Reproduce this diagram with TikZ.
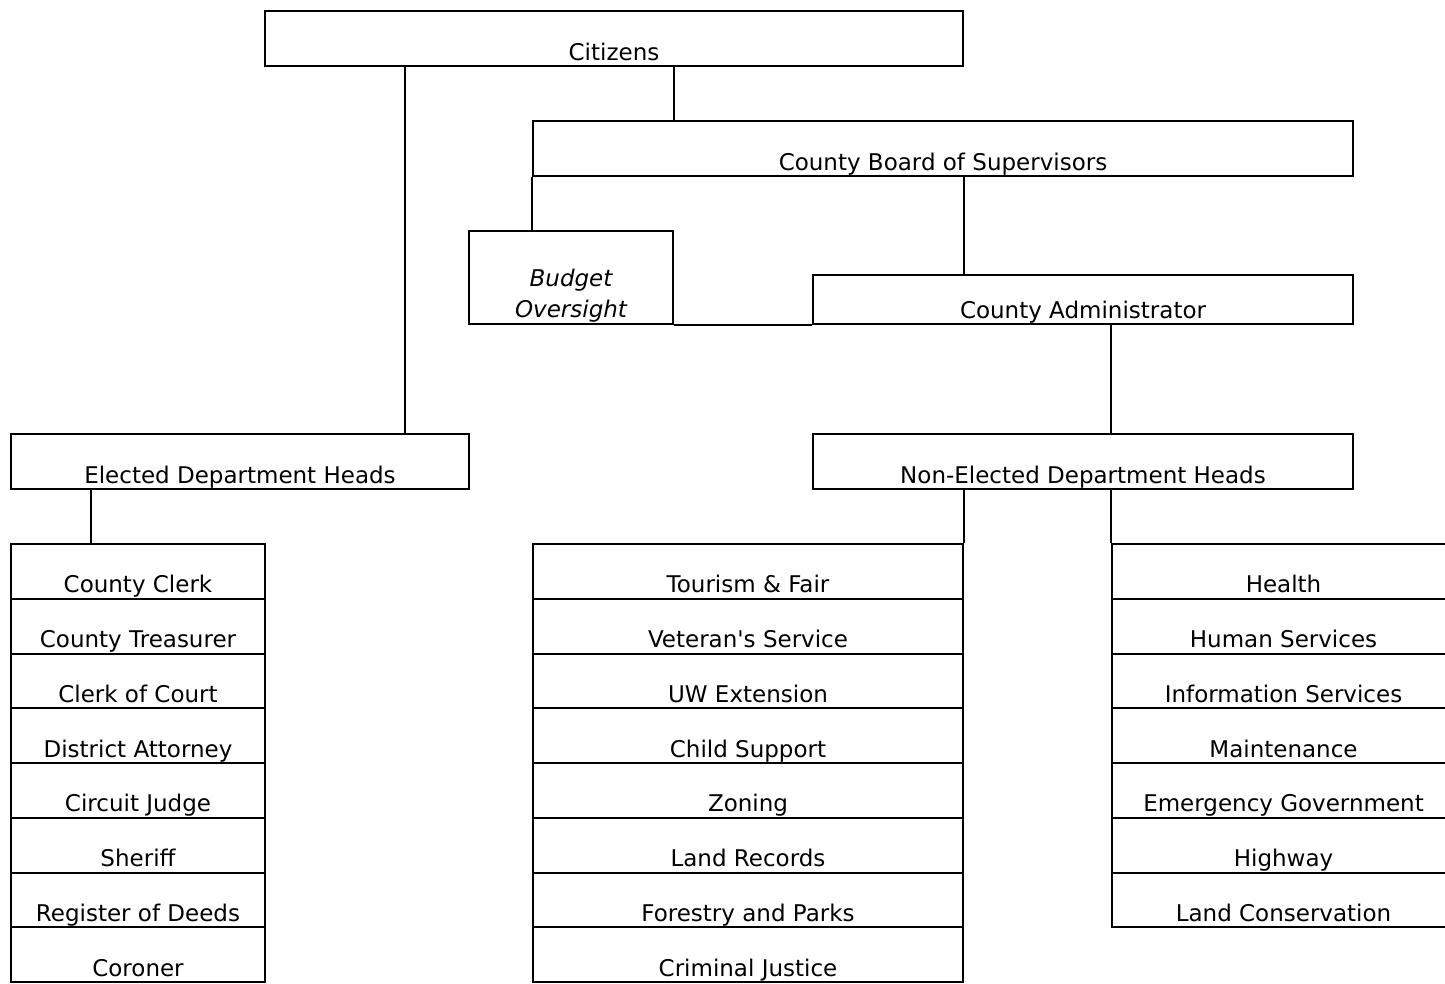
\documentclass[tikz,border=0pt]{standalone}
\usepackage{fontspec}
\setmainfont{DejaVu Sans}
\tikzset{basic/.style={draw,line width=2pt,rectangle,inner sep=0pt,
                       text depth=6pt,font=\fontsize{23}{31}\selectfont}}
\tikzset{unit/.style={basic,minimum height=55pt,text height=49pt}}
\tikzset{slim/.style={basic,minimum height=49pt,text height=43pt}}
\tikzset{row/.style={basic,minimum height=54.75pt,text height=48.75pt}}
\tikzset{link/.style={draw,line width=2pt}}
\begin{document}
\begin{tikzpicture}[x=1pt,y=-1pt]
    \useasboundingbox (0,0) rectangle (1445,983);
    \clip (0,0) rectangle (1445,983);
    % top levels
    \node[unit,minimum width=698pt] (citizens) at (614,38.5) {Citizens};
    \node[unit,minimum width=820pt] (board) at (943,148.5) {County Board of Supervisors};
    \node[basic,minimum width=204pt,minimum height=93pt,text height=86pt,text depth=7pt,
          align=center,font=\fontsize{23}{31}\selectfont\itshape] (budget) at (571,277.5) {Budget\\Oversight};
    \node[slim,minimum width=540pt] (admin) at (1083,299.5) {County Administrator};
    \node[unit,minimum width=458pt] (elected) at (240,461.5) {Elected Department Heads};
    \node[unit,minimum width=540pt] (nonelected) at (1083,461.5) {Non-Elected Department Heads};
    % department lists
    \foreach \h [count=\hi ] in {County Clerk,County Treasurer,Clerk of Court,District Attorney,
                                 Circuit Judge,Sheriff,Register of Deeds,Coroner}{%
          \node[row,minimum width=254pt] (e\hi) at (138,544+\hi*54.75-27.375) {\h};
        }
    \foreach \h [count=\hi ] in {Tourism \& Fair,Veteran\textquotesingle s Service,UW Extension,Child Support,
                                 Zoning,Land Records,Forestry and Parks,Criminal Justice}{%
          \node[row,minimum width=430pt] (m\hi) at (748,544+\hi*54.75-27.375) {\h};
        }
    \foreach \h [count=\hi ] in {Health,Human Services,Information Services,Maintenance,
                                 Emergency Government,Highway,Land Conservation}{%
          \node[row,minimum width=343pt] (r\hi) at (1283.5,544+\hi*54.75-27.375) {\h};
        }
    % connectors
    \draw[link] (citizens.south -| 405,0) -- (elected.north -| 405,0);
    \draw[link] (citizens.south -| budget.east) -- (board.north -| budget.east);
    \draw[link] (board.south west) -- (budget.north -| board.west);
    \draw[link] (board.south -| citizens.east) -- (admin.north -| citizens.east);
    \draw[link] (budget.south east) -- (admin.south west);
    \draw[link] (admin.south -| r1.west) -- (nonelected.north -| r1.west);
    \draw[link] (elected.south -| 91,0) -- (e1.north -| 91,0);
    \draw[link] (nonelected.south -| m1.east) -- (m1.north east);
    \draw[link] (nonelected.south -| r1.west) -- (r1.north west);
\end{tikzpicture}
\end{document}
